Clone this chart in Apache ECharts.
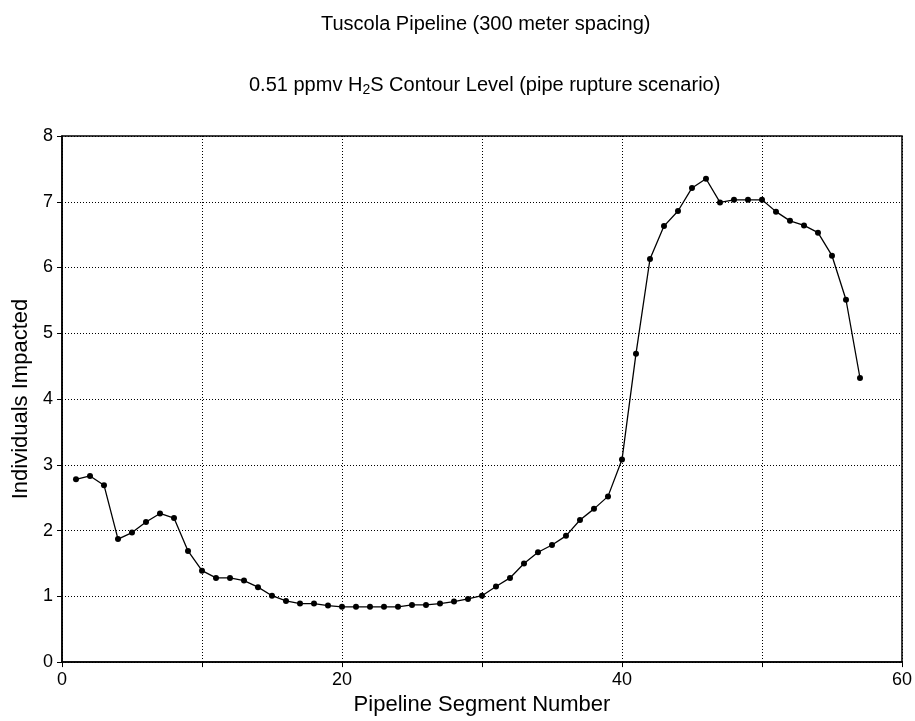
<!DOCTYPE html>
<html>
<head>
<meta charset="utf-8">
<script src="https://cdn.jsdelivr.net/npm/echarts@6/dist/echarts.min.js"></script>
<style>
html, body { margin: 0; padding: 0; background: #fff; }
#chart { width: 915px; height: 721px; }
</style>
</head>
<body>
<div id="chart"></div>
<script>
var segments = [1, 2, 3, 4, 5, 6, 7, 8, 9, 10,
    11, 12, 13, 14, 15, 16, 17, 18, 19, 20,
    21, 22, 23, 24, 25, 26, 27, 28, 29, 30,
    31, 32, 33, 34, 35, 36, 37, 38, 39, 40,
    41, 42, 43, 44, 45, 46, 47, 48, 49, 50,
    51, 52, 53, 54, 55, 56, 57];
var impacted = [2.78, 2.83, 2.69, 1.87, 1.97, 2.13, 2.26, 2.19, 1.69, 1.39,
    1.28, 1.28, 1.24, 1.14, 1.01, 0.93, 0.89, 0.89, 0.86, 0.84,
    0.84, 0.84, 0.84, 0.84, 0.87, 0.87, 0.89, 0.92, 0.96, 1.01,
    1.15, 1.28, 1.50, 1.67, 1.78, 1.92, 2.16, 2.33, 2.52, 3.08,
    4.69, 6.13, 6.63, 6.86, 7.21, 7.35, 6.99, 7.03, 7.03, 7.03,
    6.85, 6.71, 6.64, 6.53, 6.18, 5.51, 4.32];
var xLabels = [0, 20, 40, 60];

var points = segments.map(function (s, i) { return [s, impacted[i]]; });
var font = 'Liberation Sans, Arial, sans-serif';

var option = {
    backgroundColor: '#fff',
    animation: false,
    title: [
        {
            text: 'Tuscola Pipeline (300 meter spacing)',
            left: 316,
            top: 9,
            textStyle: { fontFamily: font, fontSize: 20, fontWeight: 'normal', color: '#000' }
        },
        {
            text: '0.51 ppmv H{sub|2}S Contour Level (pipe rupture scenario)',
            left: 244,
            top: 69,
            textStyle: {
                fontFamily: font, fontSize: 20, fontWeight: 'normal', color: '#000',
                rich: { sub: { fontFamily: font, fontSize: 14, verticalAlign: 'bottom', padding: [9, 0, 0, 0], color: '#000' } }
            }
        }
    ],
    grid: {
        left: 62, right: 11, top: 136, bottom: 58,
        show: true, borderColor: '#000', borderWidth: 1.5, backgroundColor: '#fff'
    },
    xAxis: {
        type: 'value',
        min: 0, max: 60, interval: 10,
        name: 'Pipeline Segment Number',
        nameLocation: 'middle',
        nameGap: 31,
        nameTextStyle: { fontFamily: font, fontSize: 22, color: '#000' },
        axisLine: { lineStyle: { color: '#000', width: 1.5 } },
        axisTick: { show: true, length: 5, lineStyle: { color: '#000' } },
        axisLabel: {
            fontFamily: font, fontSize: 18, color: '#000', margin: 9,
            formatter: function (v) { return xLabels.indexOf(v) >= 0 ? String(v) : ''; }
        },
        splitLine: { show: true, lineStyle: { color: '#000', type: [1, 2], width: 1 } }
    },
    yAxis: {
        type: 'value',
        min: 0, max: 8, interval: 1,
        name: 'Individuals Impacted',
        nameLocation: 'middle',
        nameGap: 26,
        nameTextStyle: { fontFamily: font, fontSize: 22, color: '#000' },
        axisLine: { show: true, lineStyle: { color: '#000', width: 1.5 } },
        axisTick: { show: true, length: 5, lineStyle: { color: '#000' } },
        axisLabel: { fontFamily: font, fontSize: 18, color: '#000', margin: 9 },
        splitLine: { show: true, lineStyle: { color: '#000', type: [1, 2], width: 1 } }
    },
    series: [
        {
            type: 'line',
            data: points,
            symbol: 'circle',
            symbolSize: 6,
            lineStyle: { color: '#000', width: 1.3 },
            itemStyle: { color: '#000' }
        }
    ]
};

var chart = echarts.init(document.getElementById('chart'));
chart.setOption(option);
</script>
</body>
</html>
